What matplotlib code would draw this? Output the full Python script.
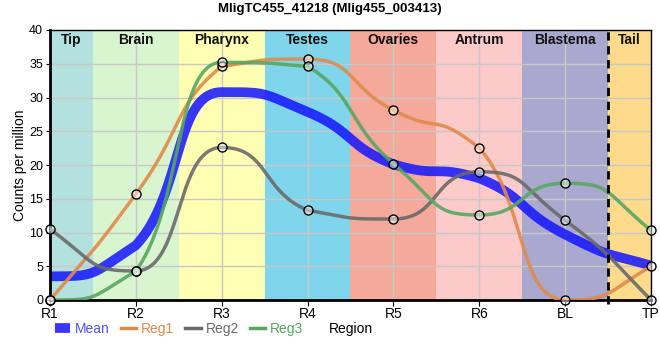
import matplotlib.pyplot as plt
from matplotlib.lines import Line2D
import numpy as np

plt.rcParams['font.family'] = ['Liberation Sans', 'DejaVu Sans']

regions = ['R1', 'R2', 'R3', 'R4', 'R5', 'R6', 'BL', 'TP']
reg1 = [0.0, 15.7, 34.6, 35.7, 28.1, 22.5, 0.0, 5.0]
reg2 = [10.5, 4.3, 22.6, 13.3, 12.0, 19.0, 11.8, 0.0]
reg3 = [0.0, 4.3, 35.2, 34.6, 20.2, 12.6, 17.3, 10.3]
mean = list(np.mean([reg1, reg2, reg3], axis=0))

band_names = ['Tip', 'Brain', 'Pharynx', 'Testes', 'Ovaries', 'Antrum', 'Blastema', 'Tail']
band_colors = ['#b3e1dd', '#d8f5d0', '#ffffb4', '#7fd5ec', '#f4a99b', '#fdcaca', '#a9a8cf', '#fdda8c']

c_mean = '#1414ff'
c_reg1 = '#e08a4c'
c_reg2 = '#6a6a6a'
c_reg3 = '#58a662'


def smooth(xs, ys, a=0.55, n=80):
    # bezier spline, flat at local extrema, no overshoot
    xs = np.asarray(xs, float)
    ys = np.asarray(ys, float)
    k = len(xs)
    m = np.zeros(k)
    for i in range(1, k - 1):
        if (ys[i] - ys[i - 1]) * (ys[i + 1] - ys[i]) > 0:
            m[i] = (ys[i + 1] - ys[i - 1]) / (xs[i + 1] - xs[i - 1])
    m[0] = (3 * (ys[1] - ys[0]) / (xs[1] - xs[0]) - m[1]) / 2
    m[-1] = (3 * (ys[-1] - ys[-2]) / (xs[-1] - xs[-2]) - m[-2]) / 2
    outx, outy = [], []
    t = np.linspace(0, 1, n)
    for i in range(k - 1):
        h = xs[i + 1] - xs[i]
        lo, hi = min(ys[i], ys[i + 1]), max(ys[i], ys[i + 1])
        p0 = (xs[i], ys[i])
        p3 = (xs[i + 1], ys[i + 1])
        p1 = (xs[i] + a * h, np.clip(ys[i] + a * h * m[i], lo, hi))
        p2 = (xs[i + 1] - a * h, np.clip(ys[i + 1] - a * h * m[i + 1], lo, hi))
        bx = (1 - t)**3 * p0[0] + 3 * (1 - t)**2 * t * p1[0] + 3 * (1 - t) * t**2 * p2[0] + t**3 * p3[0]
        by = (1 - t)**3 * p0[1] + 3 * (1 - t)**2 * t * p1[1] + 3 * (1 - t) * t**2 * p2[1] + t**3 * p3[1]
        outx.extend(bx)
        outy.extend(by)
    return np.array(outx), np.array(outy)


x = np.arange(len(regions))

fig = plt.figure(figsize=(6.6, 3.6), dpi=100)
ax = fig.add_axes([50 / 660, 60 / 360, 601 / 660, 270 / 360])

# coloured region bands
edges = [0, 0.5, 1.5, 2.5, 3.5, 4.5, 5.5, 6.5, 7]
for i in range(len(band_names)):
    ax.axvspan(edges[i], edges[i + 1], color=band_colors[i], zorder=0.1, lw=0)
    ax.text((edges[i] + edges[i + 1]) / 2, 39.6, band_names[i], ha='center', va='top',
            fontsize=10, fontweight='bold', color='#111111', zorder=6)

ax.axvline(6.5, ymin=-0.015, color='black', lw=2, ls=(0, (3, 2)), zorder=4, clip_on=False)

sx, sy = smooth(x, mean)
ax.plot(sx, sy, color=c_mean, lw=7, alpha=0.85, zorder=2, solid_capstyle='butt')
for ys, c in [(reg1, c_reg1), (reg2, c_reg2), (reg3, c_reg3)]:
    sx, sy = smooth(x, ys)
    ax.plot(sx, sy, color=c, lw=2.5, alpha=0.9, zorder=3)
for ys in [reg1, reg2, reg3]:
    ax.plot(x, ys, 'o', mfc=(1, 1, 1, 0.45), mec='black', ms=6.5, mew=1, zorder=5, clip_on=False)

ax.set_xlim(0, 7)
ax.set_ylim(0, 40)
ax.set_xticks(x)
ax.set_xticklabels(regions, fontsize=10)
ax.set_yticks(np.arange(0, 41, 5))
ax.tick_params(axis='y', labelsize=9, length=3, pad=2)
ax.tick_params(axis='x', length=4, pad=1)
ax.grid(True, color='#c8c8c8', lw=1)
ax.set_axisbelow(True)
for s in ['left', 'bottom']:
    ax.spines[s].set_linewidth(2)
for s in ['top', 'right']:
    ax.spines[s].set_linewidth(1)

ax.set_ylabel('Counts per million', fontsize=10, va='center')
ax.yaxis.set_label_coords(-30 / 601, 0.5)
ax.set_xlabel('Region', fontsize=10, va='center')
ax.xaxis.set_label_coords(0.5, -29 / 270)

fig.text(0.5, 1 - 9 / 360, 'MligTC455_41218 (Mlig455_003413)', ha='center', va='center',
         fontsize=9.5, fontweight='bold')

handles = [Line2D([], [], color=c_mean, lw=7, alpha=0.85, solid_capstyle='butt'),
           Line2D([], [], color=c_reg1, lw=2.5),
           Line2D([], [], color=c_reg2, lw=2.5),
           Line2D([], [], color=c_reg3, lw=2.5)]
labels = ['Mean', 'Reg1', 'Reg2', 'Reg3']
leg = fig.legend(handles, labels, loc='center left', bbox_to_anchor=(55 / 660, 1 - 329 / 360),
                 ncol=4, frameon=False, handlelength=1.1, handletextpad=0.35, columnspacing=0.8,
                 fontsize=10, borderpad=0, borderaxespad=0)
for txt, c in zip(leg.get_texts(), ['#5050ff', c_reg1, c_reg2, c_reg3]):
    txt.set_color(c)

fig.savefig('out.png', dpi=100)
